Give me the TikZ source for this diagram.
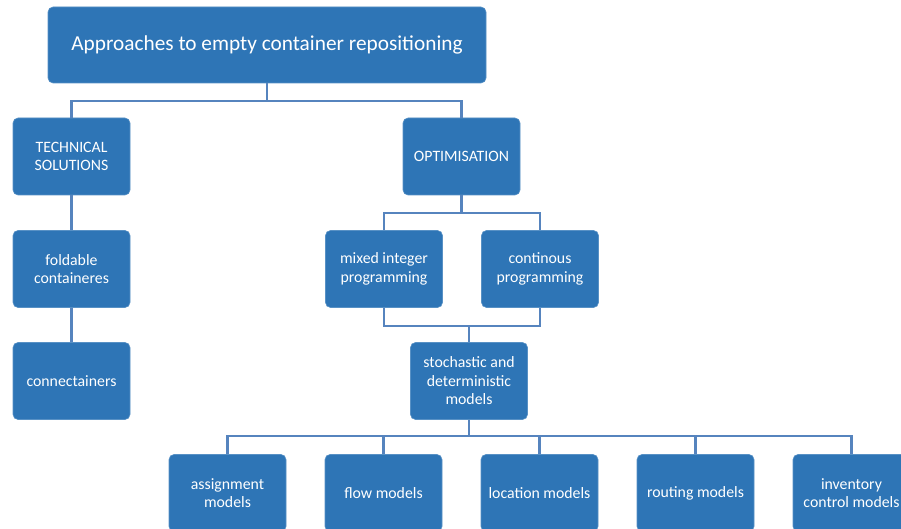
\documentclass[tikz,border=0pt]{standalone}
\usepackage{fontspec}
\setmainfont{Carlito}
\definecolor{boxblue}{RGB}{46,117,182}
\definecolor{linkblue}{RGB}{86,132,190}
\begin{document}
\begin{tikzpicture}[x=1pt,y=-1pt,
  box/.style={fill=boxblue,draw=boxblue!80!white,line width=0.6pt,rounded corners=5pt,
    text=white,align=center,minimum width=117pt,minimum height=77pt,inner sep=1pt,
    font=\fontsize{15.8}{18.5}\selectfont},
  link/.style={draw=linkblue,line width=2.8pt}]
\useasboundingbox (0,0) rectangle (901,529);

% root
\node[box,minimum width=438pt,minimum height=76pt,font=\fontsize{21.3}{25}\selectfont] (root) at (267,45) {Approaches to empty container repositioning};

% first level
\node[box] (tech) at (71.5,156.5) {TECHNICAL\\SOLUTIONS};
\node[box] (opt) at (461.5,156.5) {OPTIMISATION};

% technical branch
\node[box] (fold) at (71.5,269) {foldable\\containeres};
\node[box] (conn) at (71.5,381) {connectainers};

% optimisation branch
\node[box] (mip) at (384,269) {mixed integer\\programming};
\node[box] (cont) at (540,269) {continous\\programming};
\node[box] (stoch) at (469,381) {stochastic and\\deterministic\\models};

% model types
\node[box] (assign) at (227.5,493) {assignment\\models};
\node[box] (flow) at (383.5,493) {flow models};
\node[box] (loc) at (539.5,493) {location models};
\node[box] (rout) at (695.5,493) {routing models};
\node[box] (inv) at (851.5,493) {inventory\\control models};

% junction points
\coordinate (j1) at (267,101);
\coordinate (j2) at (461.5,213);
\coordinate (j3) at (469,326);
\coordinate (j4) at (469,436);

% connectors
\begin{scope}
\draw[link] (root.south) -- (j1);
\draw[link] (tech.north) |- (j1) -| (opt.north);
\draw[link] (tech.south) -- (fold.north);
\draw[link] (fold.south) -- (conn.north);
\draw[link] (opt.south) -- (j2);
\draw[link] (mip.north) |- (j2) -| (cont.north);
\draw[link] (mip.south) |- (j3) -| (cont.south);
\draw[link] (j3) -- (stoch.north);
\draw[link] (stoch.south) -- (j4);
\draw[link] (assign.north) |- (j4) -| (inv.north);
\draw[link] (flow.north) -- (flow.north |- j4);
\draw[link] (loc.north) -- (loc.north |- j4);
\draw[link] (rout.north) -- (rout.north |- j4);
\end{scope}
\end{tikzpicture}
\end{document}
